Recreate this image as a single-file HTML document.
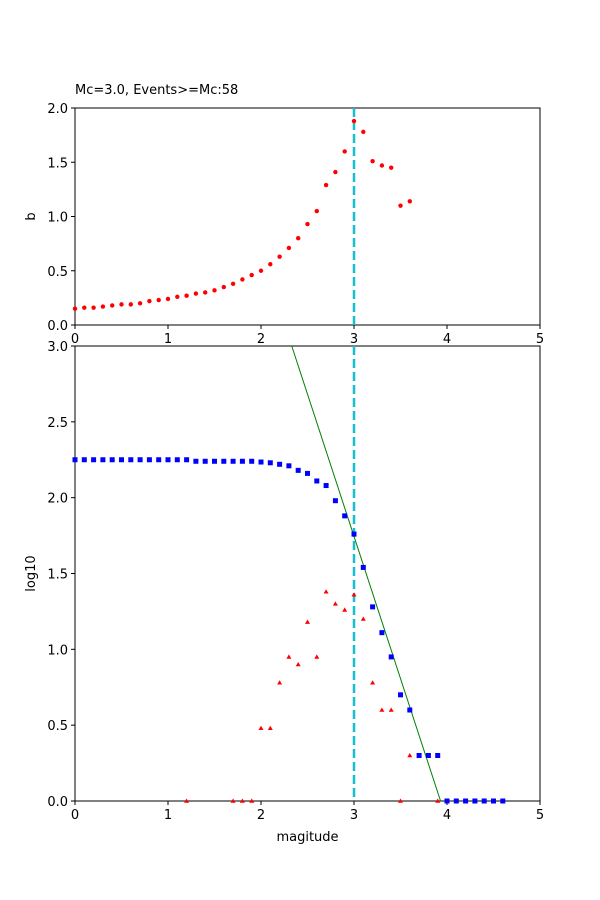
<!DOCTYPE html>
<html><head><meta charset="utf-8"><style>
html,body{margin:0;padding:0;background:#fff;overflow:hidden;width:600px;height:900px;position:relative}
svg{display:block;position:absolute;left:0;top:0}
svg text{font-family:"DejaVu Sans","Liberation Sans",sans-serif;font-size:13px;fill:#000}
</style></head><body>
<svg id="fig" width="600" height="900" viewBox="0 0 600 900" overflow="hidden">
<rect width="600" height="900" fill="#fff"/>
<g id="topPlot"></g>
<g id="botPlot"></g>
</svg>
<script>
const bMags=[0,0.1,0.2,0.3,0.4,0.5,0.6,0.7,0.8,0.9,1.0,1.1,1.2,1.3,1.4,1.5,1.6,1.7,1.8,1.9,2.0,2.1,2.2,2.3,2.4,2.5,2.6,2.7,2.8,2.9,3.0,3.1,3.2,3.3,3.4,3.5,3.6];
const bVals=[0.15,0.16,0.16,0.17,0.18,0.19,0.19,0.20,0.22,0.23,0.24,0.26,0.27,0.29,0.30,0.32,0.35,0.38,0.42,0.46,0.50,0.56,0.63,0.71,0.80,0.93,1.05,1.29,1.41,1.60,1.88,1.78,1.51,1.47,1.45,1.10,1.14];
const cumMags=[0,0.1,0.2,0.3,0.4,0.5,0.6,0.7,0.8,0.9,1.0,1.1,1.2,1.3,1.4,1.5,1.6,1.7,1.8,1.9,2.0,2.1,2.2,2.3,2.4,2.5,2.6,2.7,2.8,2.9,3.0,3.1,3.2,3.3,3.4,3.5,3.6,3.7,3.8,3.9,4.0,4.1,4.2,4.3,4.4,4.5,4.6];
const cumVals=[2.25,2.25,2.25,2.25,2.25,2.25,2.25,2.25,2.25,2.25,2.25,2.25,2.25,2.24,2.24,2.24,2.24,2.24,2.24,2.24,2.235,2.23,2.22,2.21,2.18,2.16,2.11,2.08,1.98,1.88,1.76,1.54,1.28,1.11,0.95,0.70,0.60,0.30,0.30,0.30,0,0,0,0,0,0,0];
const nonMags=[1.2,1.7,1.8,1.9,2.0,2.1,2.2,2.3,2.4,2.5,2.6,2.7,2.8,2.9,3.0,3.1,3.2,3.3,3.4,3.5,3.6,3.9];
const nonVals=[0,0,0,0,0.48,0.48,0.78,0.95,0.90,1.18,0.95,1.38,1.30,1.26,1.36,1.20,0.78,0.60,0.60,0,0.30,0];
const mc=3.0, fitA=7.37, fitB=1.875;
const xTicks=[0,1,2,3,4,5];
const topYTicks=[0,0.5,1.0,1.5,2.0];
const botYTicks=[0,0.5,1.0,1.5,2.0,2.5,3.0];
const NS='http://www.w3.org/2000/svg';
function mk(p,t,a){const e=document.createElementNS(NS,t);for(const k in a)e.setAttribute(k,a[k]);p.appendChild(e);return e;}
const X0=75,X1=540;
const sx=v=>X0+(v/5)*(X1-X0);
function axes(g,yT,yB,ymax,yticks,ylabel){
  const sy=v=>yB-(v/ymax)*(yB-yT);
  const frame=mk(g,'rect',{x:X0,y:yT,width:X1-X0,height:yB-yT,fill:'none',stroke:'#000','stroke-width':1});
  
  
  xTicks.forEach(t=>{mk(g,'line',{x1:sx(t),x2:sx(t),y1:yB,y2:yB+4,stroke:'#000'});
    const tx=mk(g,'text',{x:sx(t),y:yB+18,'text-anchor':'middle'});tx.textContent=t;
    
    });
  yticks.forEach(t=>{mk(g,'line',{x1:X0-4,x2:X0,y1:sy(t),y2:sy(t),stroke:'#000'});
    const tx=mk(g,'text',{x:X0-7,y:sy(t)+5,'text-anchor':'end'});tx.textContent=t.toFixed(1);
    
    });
  const yl=mk(g,'text',{x:35,y:(yT+yB)/2,'text-anchor':'middle',transform:`rotate(-90 35 ${(yT+yB)/2})`});yl.textContent=ylabel;
  
  
  const vl=mk(g,'line',{x1:sx(mc),x2:sx(mc),y1:yT,y2:yB,stroke:'#17becf','stroke-width':2.5,'stroke-dasharray':'9,4'});
  
  
  return {sy};
}
const topG=document.getElementById('topPlot');
const A=axes(topG,108,325,2.0,topYTicks,'b');
const ttl=mk(topG,'text',{x:75,y:94});ttl.textContent='Mc=3.0, Events>=Mc:58';


bMags.forEach((m,i)=>{const c=mk(topG,'circle',{cx:sx(m),cy:A.sy(bVals[i]),r:2.2,fill:'#f00'});
  
  });
const botG=document.getElementById('botPlot');
const B=axes(botG,346,801,3.0,botYTicks,'log10');
const xl=mk(botG,'text',{x:(X0+X1)/2,y:841,'text-anchor':'middle'});xl.textContent='magitude';


const mTop=(fitA-3)/fitB, mBot=fitA/fitB;
const fl=mk(botG,'line',{x1:sx(mTop),y1:B.sy(3),x2:sx(mBot),y2:B.sy(0),stroke:'#008000','stroke-width':1});


cumMags.forEach((m,i)=>{const r=mk(botG,'rect',{x:sx(m)-2.5,y:B.sy(cumVals[i])-2.5,width:5,height:5,fill:'#00f'});
  
  });
nonMags.forEach((m,i)=>{const x=sx(m),y=B.sy(nonVals[i]);
  const p=mk(botG,'polygon',{points:`${x},${y-2.5} ${x-2.5},${y+1.8} ${x+2.5},${y+1.8}`,fill:'#f00'});
  
  });
</script>
</body></html>
